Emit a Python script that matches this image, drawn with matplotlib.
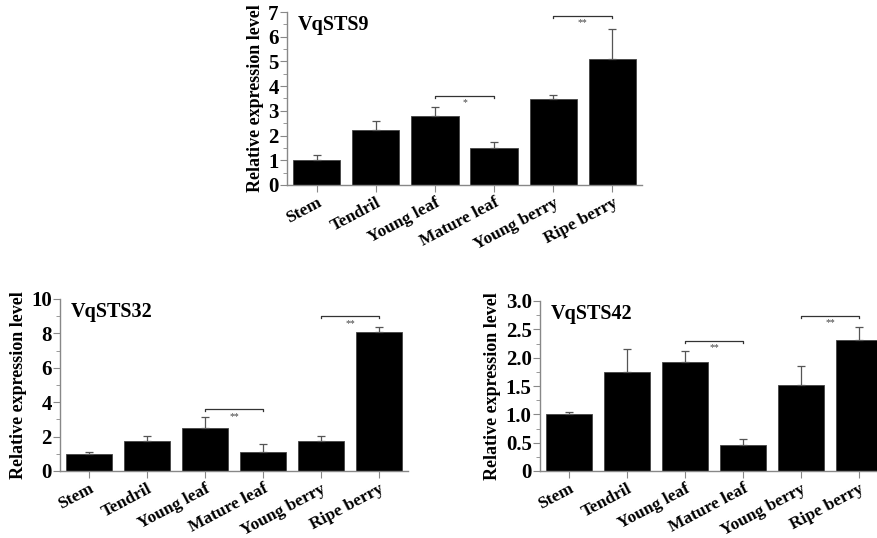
import numpy as np
import matplotlib.pyplot as plt
from matplotlib.transforms import ScaledTranslation

plt.rcParams["font.family"] = ["Liberation Serif", "DejaVu Serif"]
plt.rcParams["font.weight"] = "bold"

tissues = ["Stem", "Tendril", "Young leaf", "Mature leaf", "Young berry", "Ripe berry"]

sts9_mean = [1.02, 2.22, 2.78, 1.48, 3.47, 5.08]
sts9_top = [1.20, 2.58, 3.15, 1.72, 3.65, 6.33]

sts32_mean = [1.00, 1.75, 2.50, 1.12, 1.75, 8.10]
sts32_top = [1.12, 2.02, 3.12, 1.55, 2.02, 8.35]

sts42_mean = [1.00, 1.75, 1.93, 0.46, 1.52, 2.32]
sts42_top = [1.05, 2.16, 2.12, 0.57, 1.85, 2.55]

# (left index, right index, bracket height, label)
sts9_sig = [(2, 3, 3.62, "*"), (4, 5, 6.85, "**")]
sts32_sig = [(2, 3, 3.6, "**"), (4, 5, 9.0, "**")]
sts42_sig = [(2, 3, 2.3, "**"), (4, 5, 2.74, "**")]

W, H = 878, 538
fig = plt.figure(figsize=(W / 100, H / 100), dpi=100)


def px_axes(left, right, top, bottom):
    return fig.add_axes([left / W, 1 - bottom / H, (right - left) / W, (bottom - top) / H])


def panel(ax, name, mean, top, sig, ymax, major, minor, fmt):
    x = np.arange(len(tissues))
    err = np.array(top) - np.array(mean)
    ax.bar(x, mean, width=0.8, color="black", edgecolor="#444444", linewidth=0.6, zorder=2)
    ax.errorbar(x, mean, yerr=[np.zeros_like(err), err], fmt="none",
                ecolor="#555555", elinewidth=0.9, capsize=3, capthick=0.9, zorder=3)
    for a, b, h, lab in sig:
        d = ymax * 0.012
        ax.plot([a, a, b, b], [h - d, h, h, h - d], color="#333333", lw=0.9, zorder=3)
        ax.text((a + b) / 2, h - ymax * 0.015, lab, ha="center", va="top",
                fontsize=7, color="#444444", fontweight="normal")
    ax.set_xlim(-0.5, 5.5)
    ax.set_ylim(0, ymax)
    ax.set_yticks(np.arange(0, ymax + 1e-9, major))
    ax.set_yticks(np.arange(0, ymax + 1e-9, minor), minor=True)
    ax.set_yticklabels([("0" if v == 0 else fmt.format(v)) for v in np.arange(0, ymax + 1e-9, major)])
    ax.set_xticks(x)
    ax.set_xticklabels(tissues, rotation=28, ha="right", rotation_mode="anchor",
                       fontsize=12.5, fontweight="bold")
    shift = ScaledTranslation(-0.08, 0.035, fig.dpi_scale_trans)
    for t in ax.get_xticklabels():
        t.set_transform(t.get_transform() + shift)
    for s in ["top", "right"]:
        ax.spines[s].set_visible(False)
    for s in ["left", "bottom"]:
        ax.spines[s].set_color("#888888")
        ax.spines[s].set_linewidth(1.0)
    ax.tick_params(axis="both", which="both", color="#888888", direction="out")
    ax.tick_params(axis="y", which="major", length=5, labelsize=15, pad=1)
    ax.tick_params(axis="y", which="minor", length=3)
    ax.tick_params(axis="x", length=5, pad=2)
    for t in ax.get_yticklabels():
        t.set_fontweight("bold")
    ax.set_ylabel("Relative expression level", fontsize=13, fontweight="bold", labelpad=3)
    ax.text(0.03, 0.985, name, transform=ax.transAxes, ha="left", va="top",
            fontsize=14.5, fontweight="bold")


ax1 = px_axes(287, 642, 12, 185)
panel(ax1, "VqSTS9", sts9_mean, sts9_top, sts9_sig, 7, 1, 0.5, "{:.0f}")

ax2 = px_axes(60, 408, 299, 471)
panel(ax2, "VqSTS32", sts32_mean, sts32_top, sts32_sig, 10, 2, 1, "{:.0f}")

ax3 = px_axes(540, 888, 301, 471)
panel(ax3, "VqSTS42", sts42_mean, sts42_top, sts42_sig, 3.0, 0.5, 0.25, "{:.1f}")

fig.savefig("out.png", dpi=100)
